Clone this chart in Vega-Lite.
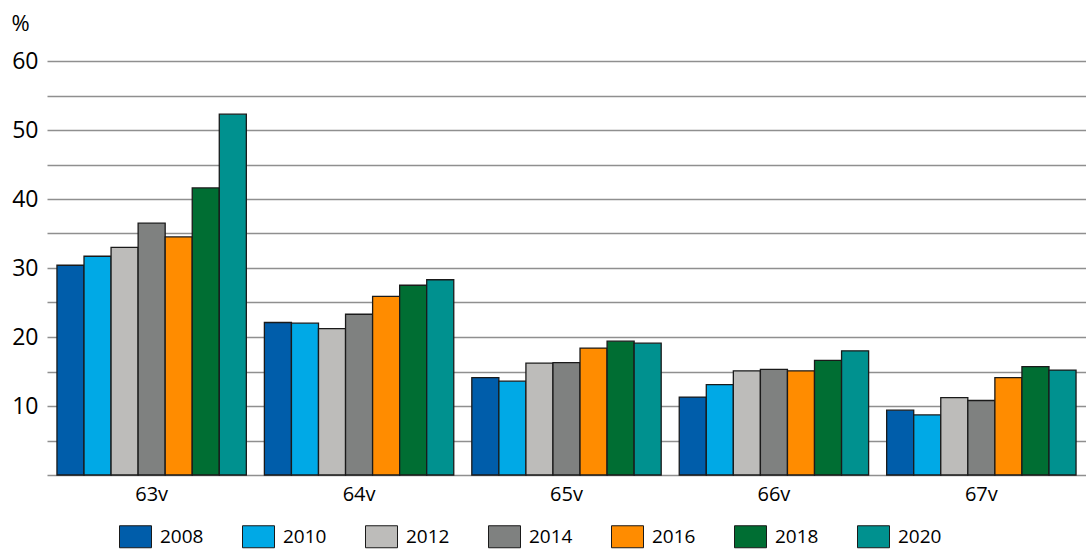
{
  "$schema": "https://vega.github.io/schema/vega-lite/v6.json",
  "width": 1039,
  "height": 414,
  "autosize": {"type": "none"},
  "padding": {"left": 47, "top": 61, "right": 0, "bottom": 74},
  "background": "white",
  "config": {
    "view": {"stroke": null},
    "font": "Open Sans"
  },
  "data": {
    "values": [
      {"age": "63v", "year": "2008", "value": 30.4},
      {"age": "63v", "year": "2010", "value": 31.7},
      {"age": "63v", "year": "2012", "value": 33.0},
      {"age": "63v", "year": "2014", "value": 36.5},
      {"age": "63v", "year": "2016", "value": 34.5},
      {"age": "63v", "year": "2018", "value": 41.6},
      {"age": "63v", "year": "2020", "value": 52.3},
      {"age": "64v", "year": "2008", "value": 22.1},
      {"age": "64v", "year": "2010", "value": 22.0},
      {"age": "64v", "year": "2012", "value": 21.2},
      {"age": "64v", "year": "2014", "value": 23.3},
      {"age": "64v", "year": "2016", "value": 25.9},
      {"age": "64v", "year": "2018", "value": 27.5},
      {"age": "64v", "year": "2020", "value": 28.3},
      {"age": "65v", "year": "2008", "value": 14.1},
      {"age": "65v", "year": "2010", "value": 13.6},
      {"age": "65v", "year": "2012", "value": 16.2},
      {"age": "65v", "year": "2014", "value": 16.3},
      {"age": "65v", "year": "2016", "value": 18.4},
      {"age": "65v", "year": "2018", "value": 19.4},
      {"age": "65v", "year": "2020", "value": 19.1},
      {"age": "66v", "year": "2008", "value": 11.3},
      {"age": "66v", "year": "2010", "value": 13.1},
      {"age": "66v", "year": "2012", "value": 15.1},
      {"age": "66v", "year": "2014", "value": 15.3},
      {"age": "66v", "year": "2016", "value": 15.1},
      {"age": "66v", "year": "2018", "value": 16.6},
      {"age": "66v", "year": "2020", "value": 18.0},
      {"age": "67v", "year": "2008", "value": 9.4},
      {"age": "67v", "year": "2010", "value": 8.7},
      {"age": "67v", "year": "2012", "value": 11.2},
      {"age": "67v", "year": "2014", "value": 10.8},
      {"age": "67v", "year": "2016", "value": 14.1},
      {"age": "67v", "year": "2018", "value": 15.7},
      {"age": "67v", "year": "2020", "value": 15.2}
    ]
  },
  "mark": {"type": "bar", "stroke": "#1a1a1a", "strokeWidth": 1.3},
  "encoding": {
    "x": {
      "field": "age",
      "type": "nominal",
      "scale": {"paddingInner": 0.087, "paddingOuter": 0.048},
      "axis": {
        "title": null,
        "labelAngle": 0,
        "domain": false,
        "ticks": false,
        "labelFontSize": 20,
        "labelColor": "#000000",
        "labelPadding": 9
      }
    },
    "xOffset": {
      "field": "year",
      "type": "nominal",
      "sort": ["2008", "2010", "2012", "2014", "2016", "2018", "2020"],
      "scale": {"paddingInner": 0, "paddingOuter": 0}
    },
    "y": {
      "field": "value",
      "type": "quantitative",
      "scale": {"domain": [0, 60], "nice": false},
      "axis": {
        "values": [0, 5, 10, 15, 20, 25, 30, 35, 40, 45, 50, 55, 60],
        "labelExpr": "datum.value % 10 == 0 && datum.value > 0 ? datum.label : ''",
        "domain": false,
        "ticks": false,
        "grid": true,
        "gridColor": "#8f8f8f",
        "gridWidth": 1.5,
        "labelFontSize": 23,
        "labelColor": "#000000",
        "labelPadding": 9,
        "title": "%",
        "titleAngle": 0,
        "titleX": -36,
        "titleY": -38,
        "titleAlign": "left",
        "titleBaseline": "middle",
        "titleFontSize": 22,
        "titleFontWeight": "normal",
        "titleColor": "#000000"
      }
    },
    "color": {
      "field": "year",
      "type": "nominal",
      "sort": ["2008", "2010", "2012", "2014", "2016", "2018", "2020"],
      "scale": {
        "domain": ["2008", "2010", "2012", "2014", "2016", "2018", "2020"],
        "range": ["#005DAA", "#00A9E6", "#BDBCBA", "#7F8180", "#FF8C00", "#006E33", "#00918F"]
      },
      "legend": {
        "title": null,
        "orient": "none",
        "direction": "horizontal",
        "legendX": 72,
        "legendY": 459,
        "padding": 0,
        "symbolType": "M-1,-0.6875H1V0.6875H-1Z",
        "symbolSize": 1024,
        "symbolStrokeColor": "#1a1a1a",
        "symbolStrokeWidth": 1,
        "symbolOpacity": 1,
        "labelFontSize": 19,
        "labelColor": "#000000",
        "labelOffset": 8,
        "columnPadding": 36
      }
    }
  }
}
